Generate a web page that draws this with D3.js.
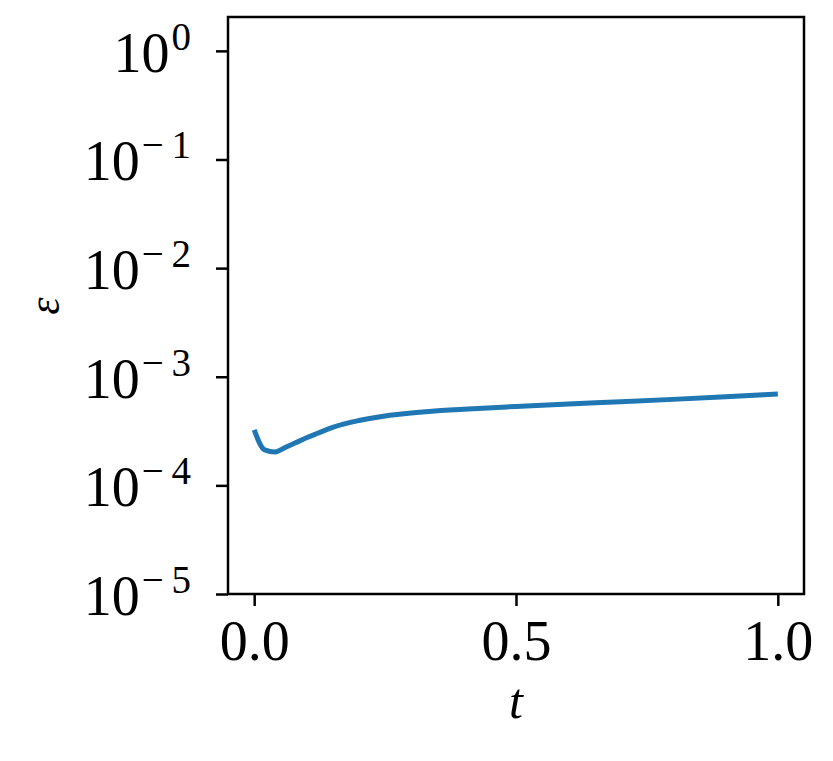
<!DOCTYPE html>
<html>
<head>
<meta charset="utf-8">
<script src="https://cdn.jsdelivr.net/npm/d3@7"></script>
<style>
  body { margin: 0; background: #fff; }
  text { font-family: "Liberation Serif", "DejaVu Serif", serif; fill: #000; }
</style>
</head>
<body>
<div class="chart"></div>
<script>
// data
const tValues = [0, 0.02, 0.04, 0.06, 0.08, 0.10, 0.12, 0.15, 0.20, 0.25, 0.30, 0.40, 0.50, 0.60, 0.70, 0.80, 0.90, 1.00];
const errValues = [3.24e-4, 2.12e-4, 2.03e-4, 2.24e-4, 2.48e-4, 2.74e-4, 3.0e-4, 3.42e-4, 3.95e-4, 4.36e-4, 4.64e-4, 5.02e-4, 5.33e-4, 5.62e-4, 5.88e-4, 6.19e-4, 6.55e-4, 6.95e-4];
const xTicks = [0, 0.5, 1.0];
const yExponents = [0, -1, -2, -3, -4, -5];

const width = 833, height = 761;
const margin = { left: 228, top: 17, right: 833 - 804, bottom: 761 - 594 };

let svg = d3.select(".chart").append("svg").attr("width", width).attr("height", height);

// scales
let x = d3.scaleLinear().domain([-0.05, 1.05]).range([margin.left, width - margin.right]);
let y = d3.scaleLog().domain([1e-5, 2.05]).range([height - margin.bottom, margin.top]);

// the line
let line = d3.line().x((d, i) => x(tValues[i])).y(d => y(d)).curve(d3.curveMonotoneX);
svg.append("path")
  .datum(errValues)
  .attr("d", line)
  .attr("fill", "none")
  .attr("stroke", "#1f77b4")
  .attr("stroke-width", 5);

// frame
svg.append("rect")
  .attr("x", x.range()[0]).attr("y", y.range()[1])
  .attr("width", x.range()[1] - x.range()[0])
  .attr("height", y.range()[0] - y.range()[1])
  .attr("fill", "none").attr("stroke", "#000").attr("stroke-width", 2.5);

// x axis
let xAxis = svg.append("g").attr("transform", `translate(0,${y.range()[0]})`)
  .call(d3.axisBottom(x).tickValues(xTicks).tickSize(12).tickFormat(d3.format(".1f")));
xAxis.select(".domain").remove();
xAxis.selectAll(".tick line").attr("stroke-width", 2.5);
xAxis.selectAll(".tick text")
  .attr("y", 66).attr("dy", null)
  .attr("font-size", 56)
  .style("font-family", "Liberation Serif, serif");

// y axis, labels written by hand as 10^n
let yAxis = svg.append("g").attr("transform", `translate(${x.range()[0]},0)`)
  .call(d3.axisLeft(y).tickValues(yExponents.map(e => Math.pow(10, e))).tickSize(12).tickFormat(""));
yAxis.select(".domain").remove();
yAxis.selectAll(".tick line").attr("stroke-width", 2.5);

let yLab = svg.append("g").selectAll("text")
  .data(yExponents)
  .enter()
  .append("text")
  .attr("x", 191)
  .attr("y", d => y(Math.pow(10, d)) + 21)
  .attr("text-anchor", "end")
  .attr("font-size", 56);
yLab.append("tspan").text("10");
yLab.append("tspan")
  .attr("font-size", 39)
  .attr("dy", -22)
  .attr("dx", 2)
  .text(d => d === 0 ? "0" : "\u2212\u2009" + (-d));

// axis titles
svg.append("text")
  .attr("x", x(0.5)).attr("y", 718)
  .attr("text-anchor", "middle")
  .attr("font-size", 50)
  .attr("font-style", "italic")
  .text("t");

svg.append("text")
  .attr("transform", `translate(59,306) rotate(-90)`)
  .attr("text-anchor", "middle")
  .attr("font-size", 44)
  .attr("font-style", "italic")
  .text("\u03b5");
</script>
</body>
</html>
